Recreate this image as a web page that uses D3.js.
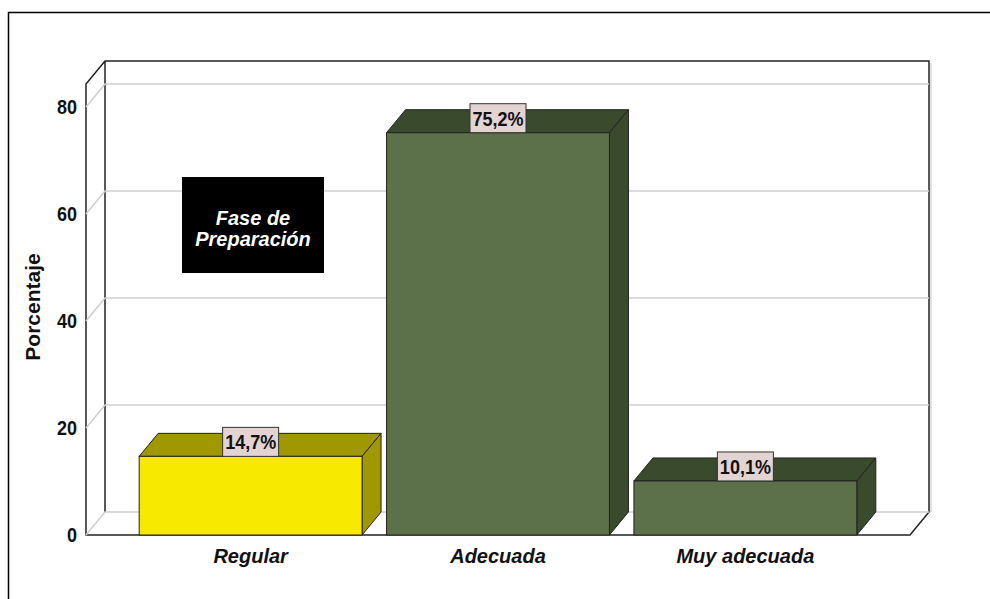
<!DOCTYPE html>
<html>
<head>
<meta charset="utf-8">
<script src="https://cdn.jsdelivr.net/npm/d3@7"></script>
<style>
	body{margin:0;background:#fff;}
	#chart text{font-family:Arial,"Liberation Sans",sans-serif;font-weight:bold;}
</style>
</head>
<body>
<div id="chart"></div>
<script>
// data
var categories=["Regular","Adecuada","Muy adecuada"];
var values=[14.7,75.2,10.1];
var valueLabels=["14,7%","75,2%","10,1%"];
var yTicks=[0,20,40,60,80];
var yMax=84.3;

var width=990,height=599;
var depthx=19,depthy=23;
var front={left:86,right:910,bottom:535,top:84};

var frontColors=["#f7ea00","#5c7049","#5c7049"];
var darkColors=["#a09800","#3a4a2d","#3a4a2d"];

var svg=d3.select("#chart").append("svg")
		.attr("width",width).attr("height",height);

// outer frame
svg.append("rect").attr("x",8.5).attr("y",12.5)
	.attr("width",width).attr("height",height)
	.attr("fill","none").attr("stroke","#000").attr("stroke-width",1.5);

var y=d3.scaleLinear().domain([0,yMax]).range([front.bottom,front.top]);
var x=d3.scaleBand().domain(categories).range([front.left,front.right])
		.paddingInner(0.099).paddingOuter(0.215);

var walls=svg.append("g").attr("class","walls");
var grid=svg.append("g").attr("class","grid");
var bars=svg.append("g").attr("class","bars");
var labels=svg.append("g").attr("class","labels");

//======================gridlines===========================
yTicks.forEach(function(v){
	var yy=y(v);
	grid.append("path")
		.attr("d","M"+front.left+","+yy+"L"+(front.left+depthx)+","+(yy-depthy)+"L"+(front.right+depthx)+","+(yy-depthy))
		.attr("fill","none").attr("stroke","#cfcfcf").attr("stroke-width",1.5);
});
// shadow on right of back wall
grid.append("line").attr("x1",front.right+depthx+2).attr("x2",front.right+depthx+2)
	.attr("y1",y(yMax)-depthy+2).attr("y2",y(0)-depthy)
	.attr("stroke","#d6d6d6").attr("stroke-width",1.5);

//======================walls===========================
var wl=front.left,wr=front.right,wt=y(yMax),wb=y(0);
var wallPath="M"+wl+","+wb+"L"+wl+","+wt+"L"+(wl+depthx)+","+(wt-depthy)+"L"+(wr+depthx)+","+(wt-depthy)
	+"L"+(wr+depthx)+","+(wb-depthy)+"L"+wr+","+wb+"Z"
	+"M"+(wl+depthx)+","+(wt-depthy)+"L"+(wl+depthx)+","+(wb-depthy);
walls.append("path").attr("d",wallPath)
	.attr("fill","none").attr("stroke","#222").attr("stroke-width",1.5);

//======================bars===========================
categories.forEach(function(c,i){
	var x0=x(c),x1=x(c)+x.bandwidth(),yt=y(values[i]),yb=y(0);
	var g=bars.append("g");
	g.append("path")
		.attr("d","M"+x0+","+yt+"L"+(x0+depthx)+","+(yt-depthy)+"L"+(x1+depthx)+","+(yt-depthy)+"L"+x1+","+yt+"Z")
		.attr("fill",darkColors[i]).attr("stroke","#222").attr("stroke-width",1);
	g.append("path")
		.attr("d","M"+x1+","+yt+"L"+(x1+depthx)+","+(yt-depthy)+"L"+(x1+depthx)+","+(yb-depthy)+"L"+x1+","+yb+"Z")
		.attr("fill",darkColors[i]).attr("stroke","#222").attr("stroke-width",1);
	g.append("rect")
		.attr("x",x0).attr("y",yt).attr("width",x1-x0).attr("height",yb-yt)
		.attr("fill",frontColors[i]).attr("stroke","#222").attr("stroke-width",1);

	// value label box
	var cx=x0+x.bandwidth()/2;
	labels.append("rect")
		.attr("x",cx-28).attr("y",yt-29).attr("width",56).attr("height",29)
		.attr("fill","#e3d3d3").attr("stroke","#333").attr("stroke-width",1);
	labels.append("text")
		.attr("transform","translate("+cx+","+(yt-7)+") scale(0.9,1)")
		.attr("text-anchor","middle")
		.attr("font-size",20).attr("fill","#111")
		.text(valueLabels[i]);

	// category label
	svg.append("text")
		.attr("x",cx).attr("y",563).attr("text-anchor","middle")
		.attr("font-size",20).attr("font-style","italic").attr("fill","#111")
		.text(c);
});

//======================y axis===========================
svg.append("g").selectAll("text").data(yTicks).enter().append("text")
	.attr("transform",function(d){return "translate(77,"+(y(d)+7)+") scale(0.9,1)";})
	.attr("text-anchor","end").attr("font-size",20).attr("fill","#111")
	.text(function(d){return d;});

svg.append("text")
	.attr("transform","translate(40,307) rotate(-90)")
	.attr("text-anchor","middle").attr("font-size",21).attr("fill","#111")
	.text("Porcentaje");

//======================title box===========================
svg.append("rect").attr("x",182).attr("y",177).attr("width",142).attr("height",96).attr("fill","#000");
svg.append("text").attr("x",253).attr("y",225).attr("text-anchor","middle")
	.attr("font-size",20).attr("font-style","italic").attr("fill","#fff").text("Fase de");
svg.append("text").attr("x",253).attr("y",246).attr("text-anchor","middle")
	.attr("font-size",20).attr("font-style","italic").attr("fill","#fff").text("Preparación");
</script>
</body>
</html>
